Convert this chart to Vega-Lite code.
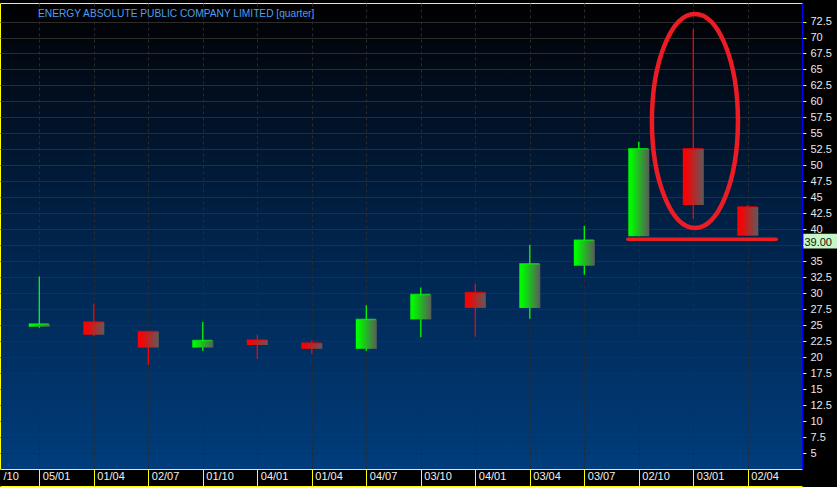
{
  "$schema": "https://vega.github.io/schema/vega-lite/v6.json",
  "autosize": {"type": "none"},
  "width": 802,
  "height": 466,
  "padding": {"left": 0, "top": 3, "right": 35, "bottom": 18},
  "background": "#000000",
  "view": {
    "fill": {"gradient": "linear", "x1": 0, "y1": 0, "x2": 0, "y2": 1,
      "stops": [
        {"offset": 0, "color": "#000000"},
        {"offset": 0.12, "color": "#020914"},
        {"offset": 0.5, "color": "#00234a"},
        {"offset": 1, "color": "#003d7c"}
      ]},
    "stroke": "#ffff00",
    "strokeWidth": 1
  },
  "title": {
    "text": "ENERGY ABSOLUTE PUBLIC COMPANY LIMITED [quarter]",
    "anchor": "start",
    "frame": "group",
    "orient": "top",
    "offset": -9,
    "dx": 38,
    "dy": 12,
    "baseline": "middle",
    "font": "Liberation Sans",
    "fontSize": 10.2,
    "fontWeight": "normal",
    "color": "#4d9ff0"
  },
  "datasets": {
    "candles": [
      {"i": 0, "date": "05/01", "open": 24.75, "close": 25.2, "high": 32.6, "low": 24.6},
      {"i": 1, "date": "01/04", "open": 25.5, "close": 23.5, "high": 28.4, "low": 23.3},
      {"i": 2, "date": "02/07", "open": 24.0, "close": 21.5, "high": 24.0, "low": 18.8},
      {"i": 3, "date": "01/10", "open": 21.5, "close": 22.6, "high": 25.5, "low": 21.0},
      {"i": 4, "date": "04/01", "open": 22.7, "close": 21.9, "high": 23.5, "low": 19.7},
      {"i": 5, "date": "01/04", "open": 22.2, "close": 21.3, "high": 22.6, "low": 20.5},
      {"i": 6, "date": "04/07", "open": 21.3, "close": 25.9, "high": 28.1, "low": 21.0},
      {"i": 7, "date": "03/10", "open": 25.9, "close": 29.8, "high": 30.9, "low": 23.1},
      {"i": 8, "date": "04/01", "open": 30.1, "close": 27.7, "high": 31.5, "low": 23.2},
      {"i": 9, "date": "03/04", "open": 27.7, "close": 34.6, "high": 37.6, "low": 26.0},
      {"i": 10, "date": "03/07", "open": 34.3, "close": 38.3, "high": 40.5, "low": 32.9},
      {"i": 11, "date": "02/10", "open": 38.9, "close": 52.6, "high": 53.7, "low": 38.9},
      {"i": 12, "date": "03/01", "open": 52.6, "close": 43.8, "high": 71.3, "low": 41.6},
      {"i": 13, "date": "02/04", "open": 43.5, "close": 39.0, "high": 43.8, "low": 39.0}
    ],
    "ellipse": [{"x": 12.03, "y": 56.95}],
    "support": [{"x": 10.8, "x2": 13.52, "y": 38.44}],
    "tag": [{"x": 14.02, "x2": 14.75, "top": 39.3, "bottom": 37.0, "price": 39.0, "label": "39.00"}]
  },
  "layer": [
    {
      "data": {"name": "candles"},
      "mark": {"type": "rule", "strokeWidth": 1.3},
      "encoding": {
        "x": {"field": "i", "type": "quantitative", "title": null,
          "scale": {"domain": [-0.7211, 13.9945], "nice": false, "zero": false, "padding": 0},
          "axis": {
            "orient": "bottom",
            "offset": 17,
            "values": [-0.72, 0, 1, 2, 3, 4, 5, 6, 7, 8, 9, 10, 11, 12, 13],
            "tickCount": 40,
            "labelExpr": "datum.value < 0 ? '/10' : ['05/01','01/04','02/07','01/10','04/01','01/04','04/07','03/10','04/01','03/04','03/07','02/10','03/01','02/04'][round(datum.value)]",
            "labelAlign": "left",
            "labelOffset": 3,
            "labelBaseline": "middle",
            "labelPadding": 7,
            "labelFlush": false,
            "labelOverlap": false,
            "labelBound": false,
            "labelColor": "#f0f0f0",
            "labelFont": "Liberation Sans",
            "labelFontSize": 11,
            "tickColor": {"condition": {"test": "datum.value < 0", "value": "transparent"}, "value": "#ffff00"},
            "tickSize": -17,
            "tickWidth": 1,
            "domainColor": "#ffff00",
            "domainWidth": 1,
            "grid": true,
            "gridColor": {"condition": {"test": "datum.value < 0", "value": "transparent"}, "value": "#2a2a2a"},
            "gridDash": [3, 3],
            "gridWidth": 1,
            "title": null
          }},
        "y": {"field": "low", "type": "quantitative", "title": null,
          "scale": {"domain": [2.5, 75.4], "nice": false, "zero": false, "padding": 0},
          "axis": {
            "orient": "right",
            "values": [5, 7.5, 10, 12.5, 15, 17.5, 20, 22.5, 25, 27.5, 30, 32.5, 35, 37.5, 40, 42.5, 45, 47.5, 50, 52.5, 55, 57.5, 60, 62.5, 65, 67.5, 70, 72.5],
            "tickCount": 60,
            "labelExpr": "datum.value == 37.5 ? '' : '' + datum.value",
            "grid": true,
            "gridColor": "#2c2c2c",
            "gridWidth": 1,
            "domainColor": "#0000ff",
            "domainWidth": 1.2,
            "tickColor": "#ffff00",
            "tickSize": 4,
            "tickWidth": 1,
            "labelPadding": 4,
            "labelColor": "#e8e8e8",
            "labelFont": "Liberation Sans",
            "labelFontSize": 11,
            "labelBaseline": "middle",
            "labelFlush": false,
            "labelOverlap": false,
            "labelBound": false,
            "title": null
          }},
        "y2": {"field": "high"},
        "color": {"condition": {"test": "datum.close >= datum.open", "value": "#00ff00"}, "value": "#ff0000"}
      }
    },
    {
      "data": {"name": "candles"},
      "transform": [{"filter": "datum.close >= datum.open"}],
      "mark": {"type": "bar", "width": 21,
        "fill": {"gradient": "linear", "x1": 0, "y1": 0, "x2": 1, "y2": 0,
          "stops": [{"offset": 0, "color": "#00ff00"}, {"offset": 0.15, "color": "#00f600"}, {"offset": 1, "color": "#5a5a5a"}]}},
      "encoding": {
        "x": {"field": "i", "type": "quantitative", "title": null},
        "y": {"field": "open", "type": "quantitative", "title": null},
        "y2": {"field": "close"}
      }
    },
    {
      "data": {"name": "candles"},
      "transform": [{"filter": "datum.close < datum.open"}],
      "mark": {"type": "bar", "width": 21,
        "fill": {"gradient": "linear", "x1": 0, "y1": 0, "x2": 1, "y2": 0,
          "stops": [{"offset": 0, "color": "#ff0000"}, {"offset": 0.15, "color": "#f80202"}, {"offset": 1, "color": "#5e5a5a"}]}},
      "encoding": {
        "x": {"field": "i", "type": "quantitative", "title": null},
        "y": {"field": "open", "type": "quantitative", "title": null},
        "y2": {"field": "close"}
      }
    },
    {
      "data": {"name": "candles"},
      "transform": [{"filter": "datum.close >= datum.open"}],
      "mark": {"type": "tick", "orient": "horizontal", "size": 20, "thickness": 1.5, "color": "#00ff00", "xOffset": -0.5},
      "encoding": {
        "x": {"field": "i", "type": "quantitative", "title": null},
        "y": {"field": "close", "type": "quantitative", "title": null}
      }
    },
    {
      "data": {"name": "candles"},
      "transform": [{"filter": "datum.close < datum.open"}],
      "mark": {"type": "tick", "orient": "horizontal", "size": 20, "thickness": 1.5, "color": "#ff0000", "xOffset": -0.5},
      "encoding": {
        "x": {"field": "i", "type": "quantitative", "title": null},
        "y": {"field": "open", "type": "quantitative", "title": null}
      }
    },
    {
      "data": {"name": "ellipse"},
      "mark": {"type": "point", "filled": false, "stroke": "#ed1c24", "strokeWidth": 4.5, "opacity": 1,
        "shape": "M -0.402 0 A 0.402 1 0 1 1 0.402 0 A 0.402 1 0 1 1 -0.402 0 Z",
        "size": 45796},
      "encoding": {
        "x": {"field": "x", "type": "quantitative", "title": null},
        "y": {"field": "y", "type": "quantitative", "title": null}
      }
    },
    {
      "data": {"name": "support"},
      "mark": {"type": "rule", "color": "#ed1c24", "strokeWidth": 3.5, "strokeCap": "round"},
      "encoding": {
        "x": {"field": "x", "type": "quantitative", "title": null},
        "x2": {"field": "x2"},
        "y": {"field": "y", "type": "quantitative", "title": null}
      }
    },
    {
      "data": {"name": "tag"},
      "mark": {"type": "rect", "fill": "#c8f5c8"},
      "encoding": {
        "x": {"field": "x", "type": "quantitative", "title": null},
        "x2": {"field": "x2"},
        "y": {"field": "top", "type": "quantitative", "title": null},
        "y2": {"field": "bottom"}
      }
    },
    {
      "data": {"name": "tag"},
      "mark": {"type": "text", "align": "left", "baseline": "top", "dx": 1, "dy": 1, "font": "Liberation Sans", "fontSize": 11, "color": "#0a1a0a"},
      "encoding": {
        "x": {"field": "x", "type": "quantitative", "title": null},
        "y": {"field": "price", "type": "quantitative", "title": null},
        "text": {"field": "label"}
      }
    }
  ]
}
